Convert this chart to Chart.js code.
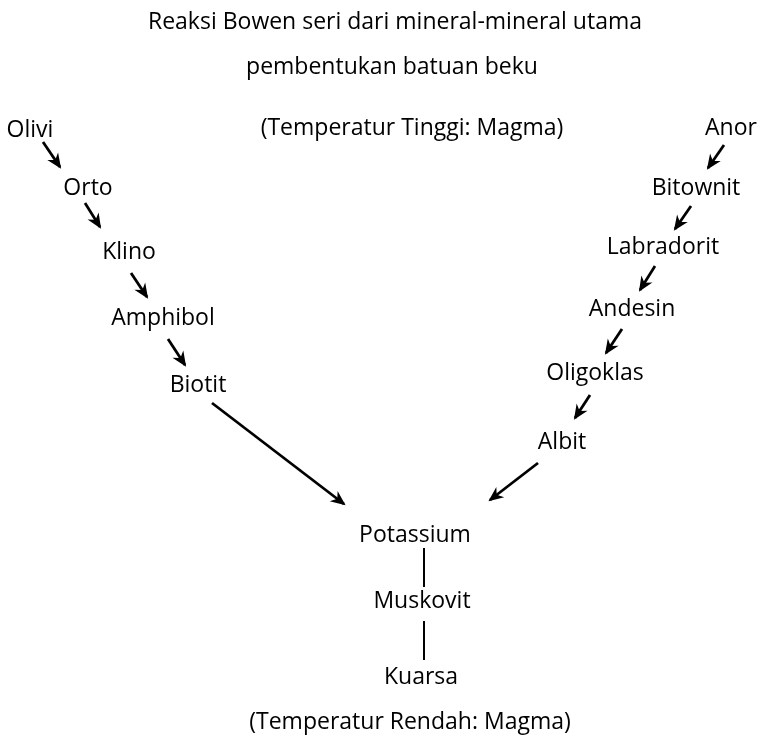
<!DOCTYPE html>
<html>
<head>
<meta charset="utf-8">
<script src="https://cdn.jsdelivr.net/npm/chart.js@4"></script>
<style>
  html, body { margin: 0; padding: 0; background: #fff; }
  canvas { display: block; }
</style>
</head>
<body>
<canvas id="bowen" width="760" height="747"></canvas>
<script>
// diagram text, positioned in plot units (0..760 across, 0..747 down)
const headingText = [
  "Reaksi Bowen seri dari mineral-mineral utama",
  "pembentukan batuan beku",
  "(Temperatur Tinggi: Magma)",
  "(Temperatur Rendah: Magma)"
];
const headingX = [395, 392, 412, 410];
const headingY = [22, 67, 128, 722];

const mineralNames = ["Olivi", "Orto", "Klino", "Amphibol", "Biotit",
  "Anor", "Bitownit", "Labradorit", "Andesin", "Oligoklas", "Albit",
  "Potassium", "Muskovit", "Kuarsa"];
const mineralX = [30, 88, 129, 163, 198, 731, 696, 663, 632, 595, 562, 415, 422, 421];
const mineralY = [130, 188, 252, 318, 385, 128, 188, 247, 309, 373, 442, 535, 601, 677];

// arrows (tail -> head)
const arrowX0 = [43, 85, 131, 168, 212, 724, 691, 655, 622, 590, 538];
const arrowY0 = [142, 203, 273, 339, 403, 145, 206, 266, 329, 395, 463];
const arrowX1 = [60, 100, 147, 185, 344, 708, 675, 640, 606, 575, 490];
const arrowY1 = [167, 227, 297, 365, 504, 168, 229, 290, 353, 418, 500];

// plain connectors under Potassium
const linkX = [424, 424];
const linkY0 = [548, 621];
const linkY1 = [587, 660];

const FONT = '23px "Open Sans", "Noto Sans", sans-serif';

const datasets = [];
datasets.push({
  label: "mineral",
  data: mineralNames.map((n, i) => ({ x: mineralX[i], y: mineralY[i] })),
  pointRadius: 0,
  showLine: false
});
datasets.push({
  label: "heading",
  data: headingText.map((t, i) => ({ x: headingX[i], y: headingY[i] })),
  pointRadius: 0,
  showLine: false
});
arrowX0.forEach((x, i) => {
  datasets.push({
    label: "arrow",
    data: [{ x: x, y: arrowY0[i] }, { x: arrowX1[i], y: arrowY1[i] }],
    showLine: true,
    borderColor: "#000",
    borderWidth: 2.8,
    pointRadius: 0
  });
});
linkX.forEach((x, i) => {
  datasets.push({
    label: "link",
    data: [{ x: x, y: linkY0[i] }, { x: x, y: linkY1[i] }],
    showLine: true,
    borderColor: "#000",
    borderWidth: 2,
    pointRadius: 0
  });
});

const textAndHeads = {
  id: "textAndHeads",
  afterDatasetsDraw(chart) {
    const ctx = chart.ctx;
    ctx.save();
    ctx.font = FONT;
    ctx.fillStyle = "#000";
    ctx.textAlign = "center";
    ctx.textBaseline = "middle";
    chart.getDatasetMeta(0).data.forEach((pt, i) => {
      ctx.fillText(mineralNames[i], pt.x, pt.y);
    });
    chart.getDatasetMeta(1).data.forEach((pt, i) => {
      ctx.fillText(headingText[i], pt.x, pt.y);
    });
    // arrowheads at the end of each arrow line
    chart.data.datasets.forEach((ds, di) => {
      if (ds.label !== "arrow") return;
      const pts = chart.getDatasetMeta(di).data;
      const a = pts[0], b = pts[1];
      const ang = Math.atan2(b.y - a.y, b.x - a.x);
      const c = Math.cos(ang), s = Math.sin(ang);
      const len = 13, half = 6.5;
      ctx.beginPath();
      ctx.moveTo(b.x + 2 * c, b.y + 2 * s);
      ctx.lineTo(b.x - len * c + half * s, b.y - len * s - half * c);
      ctx.lineTo(b.x - len * 0.65 * c, b.y - len * 0.65 * s);
      ctx.lineTo(b.x - len * c - half * s, b.y - len * s + half * c);
      ctx.closePath();
      ctx.fill();
    });
    ctx.restore();
  }
};

new Chart(document.getElementById("bowen"), {
  type: "scatter",
  data: { datasets: datasets },
  options: {
    responsive: false,
    animation: false,
    layout: { padding: 0 },
    scales: {
      x: { type: "linear", min: 0, max: 760, display: false },
      y: { type: "linear", min: 0, max: 747, reverse: true, display: false }
    },
    plugins: {
      legend: { display: false },
      tooltip: { enabled: false }
    }
  },
  plugins: [textAndHeads]
});
</script>
</body>
</html>
